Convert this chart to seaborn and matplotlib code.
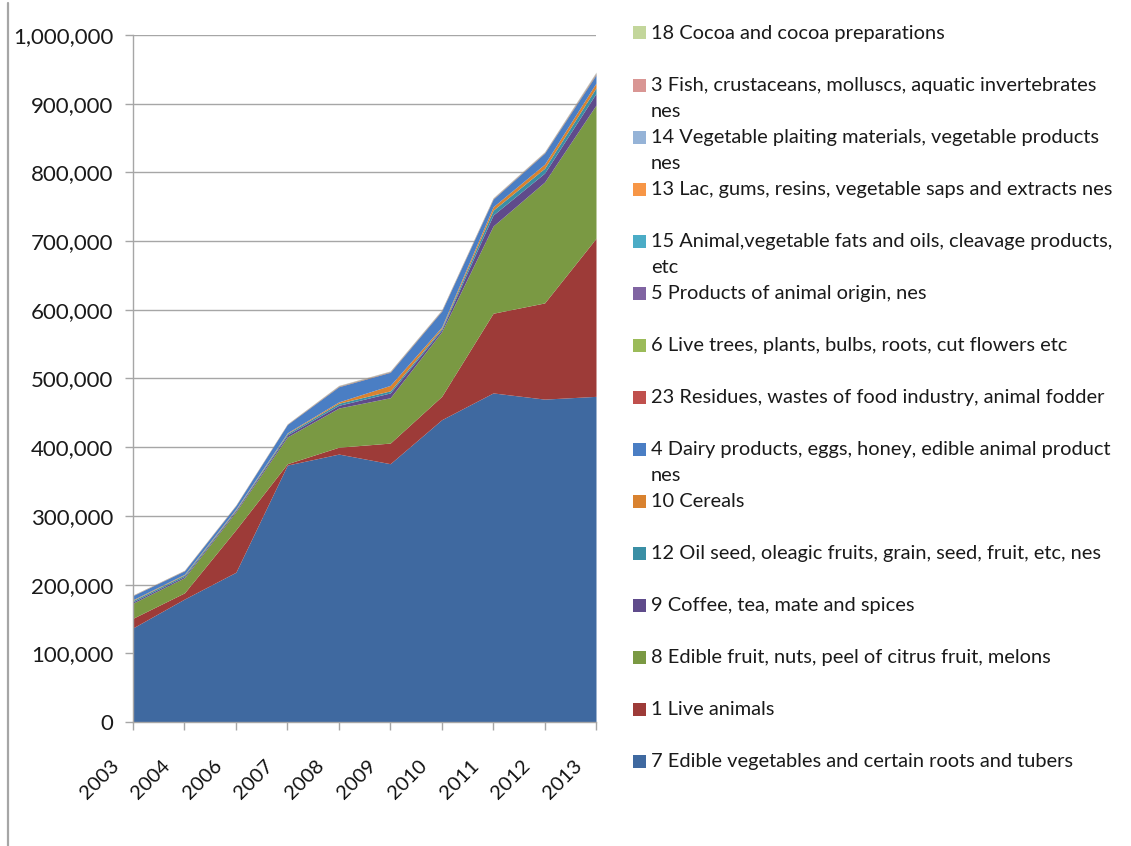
import matplotlib.pyplot as plt
import matplotlib.ticker as mticker
import matplotlib.transforms as mtransforms
from matplotlib.patches import Rectangle
from matplotlib.lines import Line2D
import seaborn as sns
import pandas as pd
import numpy as np

# Years on the x axis (2005 is missing in the source data)
years = ['2003', '2004', '2006', '2007', '2008', '2009', '2010', '2011', '2012', '2013']

# Values in thousands, bottom of the stack first
veg7 = [137, 179, 218, 374, 390, 376, 440, 479, 470, 474]
live1 = [14, 9, 62, 2, 10, 30, 34, 116, 140, 230]
fruit8 = [22, 22, 26, 39, 57, 66, 94, 127, 176, 194]
coffee9 = [2, 2, 2, 3, 4, 7, 3, 16, 13, 17]
oilseed12 = [2, 2, 1, 2, 3, 3, 2, 7, 7, 8]
cereals10 = [1, 1, 1, 1, 2, 8, 2, 5, 6, 7]
dairy4 = [6, 5, 5, 12, 22, 19, 23, 11, 16, 12]
residues23 = [0.3, 0.3, 0.3, 0.3, 0.5, 0.5, 0.5, 0.5, 0.5, 1.0]
trees6 = [0.2, 0.2, 0.2, 0.2, 0.4, 0.4, 0.4, 0.4, 0.4, 0.8]
animal5 = [0.1, 0.1, 0.1, 0.1, 0.3, 0.3, 0.3, 0.3, 0.3, 0.6]
fats15 = [0.1, 0.1, 0.1, 0.1, 0.2, 0.2, 0.2, 0.2, 0.2, 0.4]
lac13 = [0.1, 0.1, 0.1, 0.1, 0.2, 0.2, 0.2, 0.2, 0.2, 0.4]
plaiting14 = [0.1, 0.1, 0.1, 0.1, 0.2, 0.2, 0.2, 0.2, 0.2, 0.4]
fish3 = [0.05, 0.05, 0.05, 0.05, 0.1, 0.1, 0.1, 0.1, 0.1, 0.2]
cocoa18 = [0.05, 0.05, 0.05, 0.05, 0.1, 0.1, 0.1, 0.1, 0.1, 0.2]

series_names = [
    '7 Edible vegetables and certain roots and tubers',
    '1 Live animals',
    '8 Edible fruit, nuts, peel of citrus fruit, melons',
    '9 Coffee, tea, mate and spices',
    '12 Oil seed, oleagic fruits, grain, seed, fruit, etc, nes',
    '10 Cereals',
    '4 Dairy products, eggs, honey, edible animal product\nnes',
    '23 Residues, wastes of food industry, animal fodder',
    '6 Live trees, plants, bulbs, roots, cut flowers etc',
    '5 Products of animal origin, nes',
    '15 Animal,vegetable fats and oils, cleavage products,\netc',
    '13 Lac, gums, resins, vegetable saps and extracts nes',
    '14 Vegetable plaiting materials, vegetable products\nnes',
    '3 Fish, crustaceans, molluscs, aquatic invertebrates\nnes',
    '18 Cocoa and cocoa preparations',
]
series_values = [veg7, live1, fruit8, coffee9, oilseed12, cereals10, dairy4,
                 residues23, trees6, animal5, fats15, lac13, plaiting14, fish3, cocoa18]

colors = ['#3F69A0', '#9D3B38', '#7A9943', '#5F4B8B', '#3A8FA5', '#D9822F',
          '#4A7EC4', '#C0504D', '#9BBB59', '#8064A2', '#4BACC6', '#F79646',
          '#95B3D7', '#D99694', '#C3D69B']
palette = sns.color_palette(colors)

df = pd.DataFrame({name: np.array(v) * 1000 for name, v in zip(series_names, series_values)},
                  index=years)

sns.set_theme(style='white')
plt.rcParams['font.family'] = ['Lato', 'DejaVu Sans']

fig = plt.figure(figsize=(11.31, 8.46), dpi=100)
ax = fig.add_axes([133 / 1131, 1 - 722 / 846, (596 - 133) / 1131, (722 - 35) / 846])

x = np.arange(len(years))
ax.stackplot(x, df.T.values, colors=palette, linewidth=0)

ax.set_xlim(0, len(years) - 1)
ax.set_ylim(0, 1_000_000)
ax.set_yticks(np.arange(0, 1_000_001, 100_000))
ax.yaxis.set_major_formatter(mticker.FuncFormatter(lambda v, p: f'{v:,.0f}'))
ax.set_xticks(x)
ax.set_xticklabels(years)

grid_col = '#A6A6A6'
ax.grid(axis='y', color=grid_col, linewidth=1.0)
ax.set_axisbelow(True)
sns.despine(ax=ax, top=True, right=True)
for s in ['left', 'bottom']:
    ax.spines[s].set_color(grid_col)
    ax.spines[s].set_linewidth(1.0)
    ax.spines[s].set_zorder(5)

ax.tick_params(axis='y', which='major', left=True, length=5.8, width=1.0, color=grid_col,
               pad=8.5, labelsize=16, labelcolor='#1a1a1a')
ax.tick_params(axis='x', which='major', bottom=True, length=5.8, width=1.0, color=grid_col,
               pad=0, labelsize=14.5, labelcolor='#111111')

shift = mtransforms.ScaledTranslation(-0.17, -0.33, fig.dpi_scale_trans)
for lab in ax.get_xticklabels():
    lab.set_rotation(45)
    lab.set_ha('right')
    lab.set_va('center')
    lab.set_rotation_mode('anchor')
    lab.set_transform(lab.get_transform() + shift)

# Legend drawn on the right, last series at the top
W, H = 1131, 846
step = 52.07
for k, (name, col) in enumerate(zip(series_names[::-1], colors[::-1])):
    yc = 33 + k * step
    fig.add_artist(Rectangle((633 / W, 1 - (yc + 6.5) / H), 13 / W, 13 / H,
                             transform=fig.transFigure, facecolor=col, edgecolor='none'))
    for j, line in enumerate(name.split('\n')):
        fig.text(651 / W, 1 - (yc + j * 26) / H, line, fontsize=14.4, color='#1a1a1a',
                 ha='left', va='center')

# Thin frame line on the left edge of the image
fig.add_artist(Line2D([8 / W, 8 / W], [0, 1 - 3 / H], transform=fig.transFigure,
                      color='#A6A6A6', linewidth=1.6))

plt.savefig('out.png', dpi=100)
